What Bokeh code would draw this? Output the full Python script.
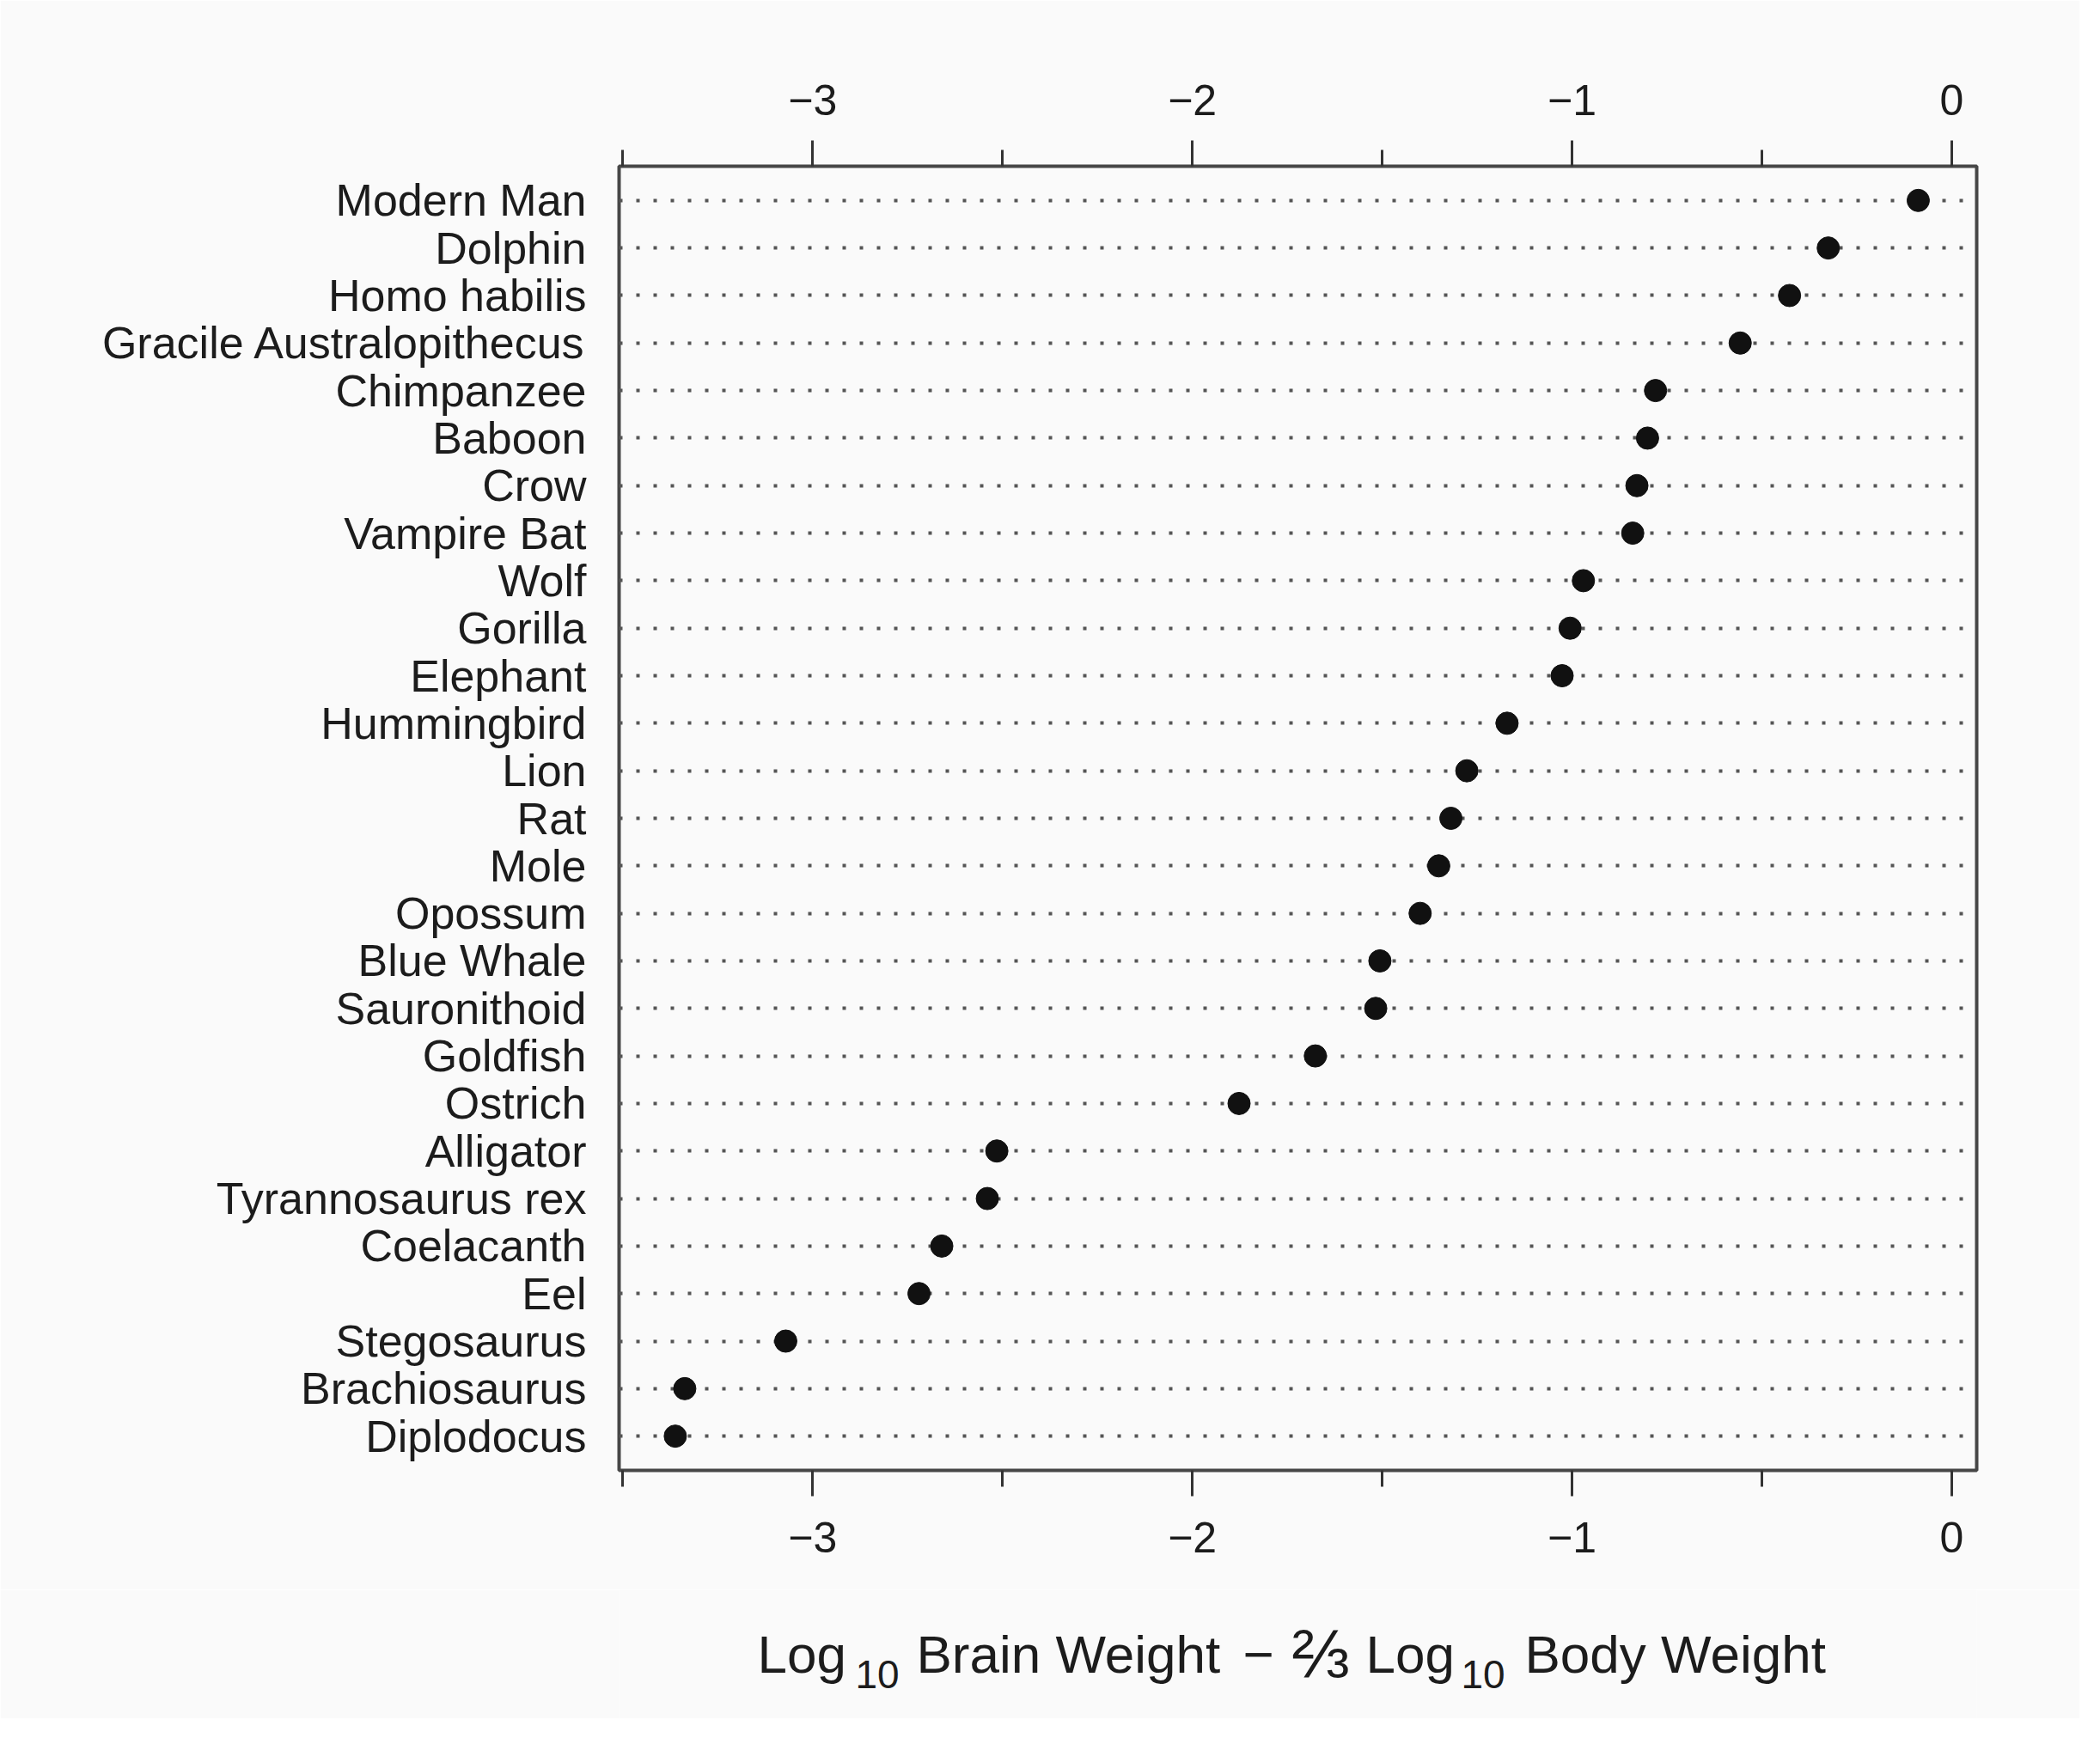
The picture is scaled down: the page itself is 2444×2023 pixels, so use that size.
from bokeh.plotting import figure
from bokeh.layouts import column
from bokeh.models import (ColumnDataSource, Range1d, LinearAxis, FixedTicker)
from bokeh.core.properties import value
from bokeh.embed import file_html
from bokeh.resources import INLINE

# ---- data (top to bottom) ----
species = ["Modern Man", "Dolphin", "Homo habilis", "Gracile Australopithecus",
           "Chimpanzee", "Baboon", "Crow", "Vampire Bat", "Wolf", "Gorilla",
           "Elephant", "Hummingbird", "Lion", "Rat", "Mole", "Opossum",
           "Blue Whale", "Sauronithoid", "Goldfish", "Ostrich", "Alligator",
           "Tyrannosaurus rex", "Coelacanth", "Eel", "Stegosaurus",
           "Brachiosaurus", "Diplodocus"]
values = [-0.088, -0.325, -0.427, -0.557, -0.780, -0.801, -0.829, -0.840,
          -0.970, -1.005, -1.026, -1.171, -1.277, -1.319, -1.351, -1.400,
          -1.506, -1.517, -1.676, -1.877, -2.515, -2.540, -2.660, -2.720,
          -3.071, -3.337, -3.362]
x_ticks = [-3, -2, -1, 0]
x_minor_ticks = [-3.5, -2.5, -1.5, -0.5]
x_tick_labels = ["\u22123", "\u22122", "\u22121", "0"]
title_texts = ["Log", "10", "Brain Weight", "\u2212", "\u2154", "Log", "10", "Body Weight"]
title_is_sub = [False, True, False, False, False, False, True, False]

n = len(species)
ypos = [n - i for i in range(n)]
src = ColumnDataSource(dict(x=values, y=ypos, name=species))

W = 2420
HP, HT = 1850, 150
FL, FT, FR, FB = 720, 193, 2300, 1711
BG = "#fafafa"
INK = "#1c1c1c"
FONT = "Liberation Sans"

p = figure(width=W, height=HP, output_backend="svg", toolbar_location=None,
           x_range=Range1d(-3.51, 0.066), y_range=Range1d(0.28, n + 0.72),
           x_axis_location=None, y_axis_location="left",
           min_border_left=FL, min_border_top=FT,
           min_border_right=W - FR, min_border_bottom=HP - FB,
           background_fill_color=BG, border_fill_color=BG)
p.outline_line_color = "#474747"
p.outline_line_width = 4

# y axis with species names
yt = FixedTicker(ticks=ypos)
ya = p.yaxis[0]
ya.ticker = yt
ya.major_label_overrides = {int(y): s for y, s in zip(ypos, species)}
ya.major_tick_line_color = None
ya.minor_tick_line_color = None
ya.axis_line_color = None
ya.major_label_standoff = 32
ya.major_label_text_font = FONT
ya.major_label_text_font_size = "52px"
ya.major_label_text_color = INK

# dotted row guides
p.xgrid.grid_line_color = None
p.ygrid.ticker = yt
p.ygrid.grid_line_color = "#555555"
p.ygrid.grid_line_width = 4
p.ygrid.grid_line_dash = "4 16"

# top and bottom x axes
for loc in ("above", "below"):
    ax = LinearAxis(ticker=FixedTicker(ticks=x_ticks, minor_ticks=x_minor_ticks))
    ax.major_label_overrides = {float(t): l for t, l in zip(x_ticks, x_tick_labels)}
    ax.axis_line_color = None
    ax.major_tick_in = 0
    ax.major_tick_out = 30
    ax.minor_tick_in = 0
    ax.minor_tick_out = 19
    ax.major_tick_line_color = "#333333"
    ax.major_tick_line_width = 3
    ax.minor_tick_line_color = "#333333"
    ax.minor_tick_line_width = 3
    ax.major_label_standoff = 30
    ax.major_label_text_font = FONT
    ax.major_label_text_font_size = "50px"
    ax.major_label_text_color = INK
    p.add_layout(ax, loc)

p.scatter("x", "y", source=src, size=26, fill_color="#111111", line_color="#111111")

# ---- x-axis title strip: its frame is aligned with the main frame (FL..FR),
# so a pixel-valued x range makes x equal to canvas pixels ----
t = figure(width=W, height=HT, output_backend="svg", toolbar_location=None,
           x_range=Range1d(FL, FR), y_range=Range1d(0, HT),
           min_border_left=FL, min_border_right=W - FR, min_border_top=0, min_border_bottom=0,
           background_fill_color=BG, border_fill_color=BG)
t.axis.visible = False
t.grid.visible = False
t.outline_line_color = None

title_x = [881, 995, 1066, 1446, 1503, 1589, 1700, 1774]
title_sizes = ["62px", "46px", "62px", "62px", "80px", "62px", "46px", "62px"]
base_main, base_sub = HT - (1925 - HP), HT - (1948 - HP)
tsrc = ColumnDataSource(dict(
    x=title_x,
    y=[base_sub if s else base_main for s in title_is_sub],
    text=title_texts,
    size=title_sizes,
))
t.text("x", "y", text="text", source=tsrc, text_font=value(FONT),
       text_font_size="size", text_color=INK, text_baseline="alphabetic",
       text_align="left")

layout = column(p, t, spacing=0)
open("out.html", "w").write(file_html(layout, INLINE))
